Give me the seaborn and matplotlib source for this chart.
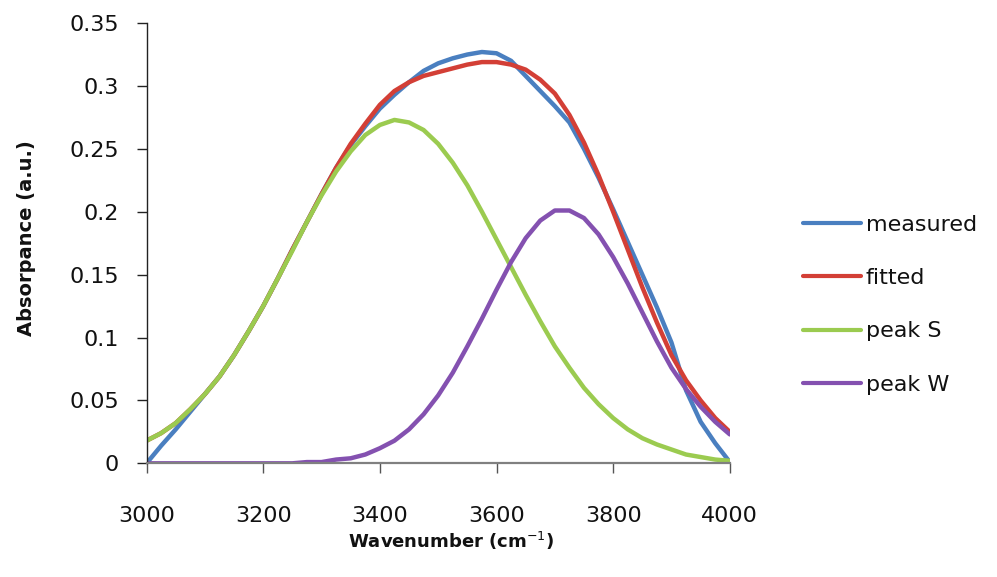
import matplotlib
matplotlib.use('Agg')
import matplotlib.pyplot as plt
import seaborn as sns
import pandas as pd
from matplotlib.ticker import FuncFormatter

# ---- data ----
wavenumber = [3000, 3025, 3050, 3075, 3100, 3125, 3150, 3175, 3200, 3225,
              3250, 3275, 3300, 3325, 3350, 3375, 3400, 3425, 3450, 3475,
              3500, 3525, 3550, 3575, 3600, 3625, 3650, 3675, 3700, 3725,
              3750, 3775, 3800, 3825, 3850, 3875, 3900, 3925, 3950, 3975, 4000]

measured = [0.000, 0.014, 0.027, 0.041, 0.055, 0.069, 0.086, 0.105, 0.125, 0.147,
            0.170, 0.192, 0.214, 0.235, 0.253, 0.268, 0.282, 0.293, 0.303, 0.312,
            0.318, 0.322, 0.325, 0.327, 0.326, 0.320, 0.308, 0.296, 0.284, 0.271,
            0.250, 0.227, 0.202, 0.176, 0.150, 0.124, 0.096, 0.058, 0.033, 0.016, 0.001]

fitted = [0.018, 0.024, 0.032, 0.043, 0.055, 0.069, 0.086, 0.105, 0.125, 0.147,
          0.170, 0.192, 0.214, 0.235, 0.254, 0.270, 0.285, 0.296, 0.303, 0.308,
          0.311, 0.314, 0.317, 0.319, 0.319, 0.317, 0.313, 0.305, 0.294, 0.277,
          0.255, 0.229, 0.200, 0.170, 0.140, 0.112, 0.086, 0.066, 0.050, 0.036, 0.025]

peak_s = [0.018, 0.024, 0.032, 0.043, 0.055, 0.069, 0.086, 0.105, 0.125, 0.147,
          0.169, 0.192, 0.213, 0.232, 0.248, 0.261, 0.269, 0.273, 0.271, 0.265,
          0.254, 0.239, 0.221, 0.200, 0.178, 0.156, 0.134, 0.113, 0.093, 0.076,
          0.060, 0.047, 0.036, 0.027, 0.020, 0.015, 0.011, 0.007, 0.005, 0.003, 0.002]

peak_w = [0.000, 0.000, 0.000, 0.000, 0.000, 0.000, 0.000, 0.000, 0.000, 0.000,
          0.000, 0.001, 0.001, 0.003, 0.004, 0.007, 0.012, 0.018, 0.027, 0.039,
          0.054, 0.072, 0.093, 0.115, 0.138, 0.160, 0.179, 0.193, 0.201, 0.201,
          0.195, 0.182, 0.164, 0.143, 0.120, 0.097, 0.076, 0.059, 0.045, 0.033, 0.023]

series_names = ['measured', 'fitted', 'peak S', 'peak W']
series_colors = ['#4a7fc0', '#d33f36', '#9bcb50', '#8451b0']

x_ticks = [3000, 3200, 3400, 3600, 3800, 4000]
y_ticks = [0, 0.05, 0.1, 0.15, 0.2, 0.25, 0.3, 0.35]

df = pd.concat([
    pd.DataFrame({'wn': wavenumber, 'absorb': vals, 'series': name})
    for name, vals in zip(series_names, [measured, fitted, peak_s, peak_w])
], ignore_index=True)

sns.set_style('white')
plt.rcParams['font.family'] = ['DejaVu Sans']

fig = plt.figure(figsize=(9.97, 5.77), dpi=100)
ax = fig.add_axes([0.147, 0.197, 0.585, 0.763])

sns.lineplot(data=df, x='wn', y='absorb', hue='series', hue_order=series_names,
             palette=dict(zip(series_names, series_colors)), linewidth=3.2,
             estimator=None, sort=False, ax=ax)

old = ax.get_legend()
handles = old.legend_handles
labels = [t.get_text() for t in old.get_texts()]
old.remove()
for h in handles:
    h.set_linewidth(3)
leg = ax.legend(handles, labels, loc='center left', bbox_to_anchor=(0.805, 0.472),
                bbox_transform=fig.transFigure, frameon=False, fontsize=16,
                handlelength=2.65, handletextpad=0.2, labelspacing=1.5,
                borderpad=0, borderaxespad=0)
for t in leg.get_texts():
    t.set_color('#111111')

ax.set_xlim(3000, 4000)
ax.set_ylim(0, 0.35)
ax.set_xticks(x_ticks)
ax.set_yticks(y_ticks)
ax.yaxis.set_major_formatter(FuncFormatter(lambda v, p: '%g' % round(v, 2)))

for s in ['top', 'right']:
    ax.spines[s].set_visible(False)
ax.spines['left'].set_color('#222222')
ax.spines['left'].set_linewidth(1.0)
ax.spines['bottom'].set_color('#808080')
ax.spines['bottom'].set_linewidth(1.6)

ax.tick_params(axis='x', direction='out', length=7, width=1, color='#555555',
               pad=24, labelsize=16, bottom=True, labelcolor='#111111')
ax.tick_params(axis='y', direction='out', length=7, width=1, color='#222222',
               pad=13, labelsize=16, left=True, labelcolor='#111111')

ax.set_xlabel('Wavenumber (cm$^{-1}$)', fontsize=13, fontweight='bold', color='#111111')
ax.xaxis.label.set_va('center')
ax.xaxis.set_label_coords(0.522, -0.176)
ax.set_ylabel('Absorpance (a.u.)', fontsize=14, fontweight='bold', color='#111111')
ax.yaxis.label.set_va('center')
ax.yaxis.set_label_coords(-0.205, 0.512)

fig.savefig('out.png', dpi=100)
